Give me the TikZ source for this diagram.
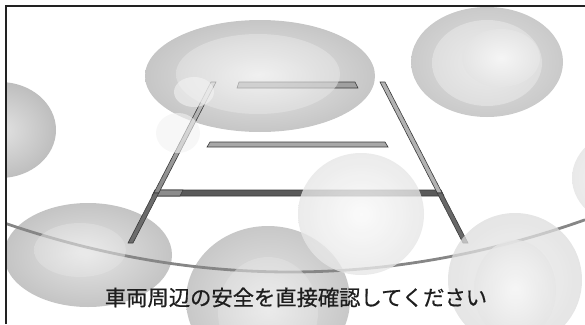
\documentclass[tikz,border=0pt]{standalone}
\usepackage{fontspec}
\newfontfamily\jpfont[FakeBold=0.7]{Noto Sans CJK JP}
\definecolor{frameC}{HTML}{222222}
\definecolor{edgeC}{HTML}{3A3A3A}
\definecolor{curveC}{HTML}{868686}
\definecolor{textC}{HTML}{1E1E1E}
\definecolor{smallA}{HTML}{F6F6F6}
\definecolor{smallB}{HTML}{F2F2F2}
\tikzset{
  guidebar/.style={draw=edgeC, line width=0.6pt, line join=miter},
  orbpiece/.style={draw=none},
  veil/.style={draw=none, opacity=#1},
}
\begin{document}
\begin{tikzpicture}[x=1pt,y=-1pt]
\useasboundingbox (0,0) rectangle (585,324);
\coordinate (fBL) at (6,324);
\coordinate (fTL) at (6,6);
\coordinate (fTR) at (585,6);
\coordinate (c0) at (0,221.5);
\coordinate (c1) at (195,289.4);
\coordinate (c2) at (390,288.8);
\coordinate (c3) at (585,219.8);
\begin{scope}
\clip (6,6) rectangle (585,324);
% base grey orbs
\shade[orbpiece, inner color={rgb,255:red,232;green,232;blue,232}, outer color={rgb,255:red,198;green,198;blue,198}] (260,76) ellipse [x radius=115pt, y radius=56pt];
\shade[orbpiece, inner color={rgb,255:red,226;green,226;blue,226}, outer color={rgb,255:red,202;green,202;blue,202}] (487,62) ellipse [x radius=76pt, y radius=55pt];
\shade[orbpiece, inner color={rgb,255:red,236;green,236;blue,236}, outer color={rgb,255:red,222;green,222;blue,222}] (487,63) ellipse [x radius=55pt, y radius=43pt];
\shade[orbpiece, inner color={rgb,255:red,245;green,245;blue,245}, outer color={rgb,255:red,228;green,228;blue,228}] (501,58) ellipse [x radius=39pt, y radius=29pt];
\shade[orbpiece, inner color={rgb,255:red,226;green,226;blue,226}, outer color={rgb,255:red,190;green,190;blue,190}] (0,130) ellipse [x radius=56pt, y radius=48pt];
\shade[orbpiece, inner color={rgb,255:red,228;green,228;blue,228}, outer color={rgb,255:red,196;green,196;blue,196}] (88,255) ellipse [x radius=84pt, y radius=52pt];
\shade[orbpiece, inner color={rgb,255:red,230;green,230;blue,230}, outer color={rgb,255:red,200;green,200;blue,200}] (268,300) ellipse [x radius=82pt, y radius=74pt];
% curve
\draw[line width=2.8pt, draw=curveC] (c0) .. controls (c1) and (c2) .. (c3);
% horizontal bars
\path[guidebar, fill={rgb,255:red,90;green,90;blue,90}] (155,190) -- (441,190) -- (444,196) -- (152,196) -- cycle;
\path[guidebar, fill={rgb,255:red,140;green,140;blue,140}] (155,190) -- (183,190) -- (180,196) -- (152,196) -- cycle;
\path[guidebar, fill={rgb,255:red,168;green,168;blue,168}] (210,142) -- (385,142) -- (388,147) -- (207,147) -- cycle;
\path[guidebar, fill={rgb,255:red,160;green,160;blue,160}] (239,82) -- (355,82) -- (358,88) -- (237,88) -- cycle;
% side guides
\path[guidebar, top color={rgb,255:red,196;green,196;blue,196}, bottom color={rgb,255:red,136;green,136;blue,136}] (211,82) -- (216,82) -- (158.8,193) -- (153.8,193) -- cycle;
\path[guidebar, fill={rgb,255:red,108;green,108;blue,108}] (153.8,193) -- (158.8,193) -- (133,243) -- (128,243) -- cycle;
\path[guidebar, fill={rgb,255:red,178;green,178;blue,178}] (380,82) -- (385,82) -- (442.2,193) -- (437.2,193) -- cycle;
\path[guidebar, fill={rgb,255:red,104;green,104;blue,104}] (437.2,193) -- (442.2,193) -- (468,243) -- (463,243) -- cycle;
% translucent light orbs
\shade[veil=0.6, inner color={rgb,255:red,246;green,246;blue,246}, outer color={rgb,255:red,228;green,228;blue,228}] (258,74) ellipse [x radius=82pt, y radius=40pt];
\fill[veil=0.55, fill=smallA] (194,92) ellipse [x radius=20pt, y radius=15pt];
\fill[veil=0.6, fill=smallB] (178,133) ellipse [x radius=22pt, y radius=20pt];
\shade[veil=0.55, inner color={rgb,255:red,242;green,242;blue,242}, outer color={rgb,255:red,226;green,226;blue,226}] (80,250) ellipse [x radius=46pt, y radius=27pt];
\shade[veil=0.55, inner color={rgb,255:red,242;green,242;blue,242}, outer color={rgb,255:red,226;green,226;blue,226}] (268,312) ellipse [x radius=50pt, y radius=55pt];
\shade[veil=0.8, inner color={rgb,255:red,249;green,249;blue,249}, outer color={rgb,255:red,230;green,230;blue,230}] (361,214) ellipse [x radius=63pt, y radius=61pt];
\shade[veil=0.75, inner color={rgb,255:red,236;green,236;blue,236}, outer color={rgb,255:red,220;green,220;blue,220}] (515,280) ellipse [x radius=67pt, y radius=67pt];
\shade[veil=0.8, inner color={rgb,255:red,247;green,247;blue,247}, outer color={rgb,255:red,230;green,230;blue,230}] (515,290) ellipse [x radius=41pt, y radius=50pt];
\shade[veil=0.75, inner color={rgb,255:red,242;green,242;blue,242}, outer color={rgb,255:red,226;green,226;blue,226}] (640,178) ellipse [x radius=68pt, y radius=52pt];
\end{scope}
% frame
\draw[line width=1.3pt, draw=frameC] (fBL) -- (fTL) -- (fTR);
% message
\node[anchor=base, inner sep=0pt, text=textC, font=\jpfont\fontsize{21.3pt}{24pt}\selectfont] (msg) at (296,305.5) {車両周辺の安全を直接確認してください};
\end{tikzpicture}
\end{document}
